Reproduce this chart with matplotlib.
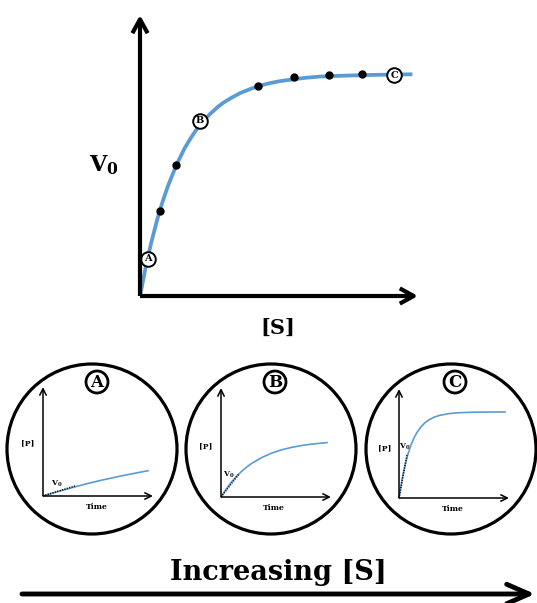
import matplotlib
matplotlib.use("Agg")
import matplotlib.pyplot as plt
from matplotlib.patches import Circle

plt.rcParams['mathtext.fontset'] = 'dejavuserif'
SERIF = 'DejaVu Serif'
BLUE = '#5b9bd5'

# ---------------- data ----------------
# main Michaelis-Menten style curve ([S] vs V0), arbitrary units 0-100
s_curve = [0, 2, 4, 6, 8, 10, 13, 16, 18, 20, 22, 25, 28, 30, 33, 36, 40, 43,
           46, 50, 55, 60, 65, 70, 80, 90, 98]
v_curve = [0, 10.0, 18.8, 26.5, 33.2, 39.0, 46.4, 52.5, 55.8, 58.8, 61.3, 64.6,
           67.3, 68.8, 70.6, 72.2, 73.8, 74.8, 75.6, 76.4, 77.1, 77.7, 78.1,
           78.3, 78.6, 78.8, 78.9]
s_dots = [7.2, 12.9, 42.4, 55.4, 68.0, 79.9]
v_dots = [30.2, 46.6, 74.7, 77.9, 78.6, 79.0]
marked_labels = ['A', 'B', 'C']
s_marked = [2.9, 21.6, 91.4]
v_marked = [13.2, 62.3, 78.6]

# progress curves ([P] vs Time) for the three substrate levels
time_A = [0, 15, 30, 45, 60, 75, 90, 105]
prod_A = [0, 4.5, 8.6, 12.6, 16.1, 19.4, 22.4, 25.3]
time_B = [0, 5, 10, 15, 20, 25, 30, 40, 50, 60, 70, 80, 90, 106]
prod_B = [0, 7.7, 14.4, 20.1, 25.1, 29.4, 33.1, 39.1, 43.6, 47.0, 49.5, 51.4, 52.8, 54.4]
time_C = [0, 3, 6, 9, 12, 15, 18, 22, 26, 30, 35, 40, 50, 60, 75, 90, 106]
prod_C = [0, 18.3, 32.8, 44.1, 53.1, 60.1, 65.6, 71.2, 75.3, 78.2, 80.8, 82.5,
          84.4, 85.3, 85.8, 86.0, 86.0]
# initial-rate (V0) tangent segments
v0_time = [[0, 32], [0, 18], [0, 8]]
v0_prod = [[0, 10], [0, 23], [0, 43]]

# ---------------- layout ----------------
W, H = 537, 603
fig = plt.figure(figsize=(W / 100, H / 100), dpi=100)


def frac(x0, y0, x1, y1):
    return [x0 / W, 1 - y1 / H, (x1 - x0) / W, (y1 - y0) / H]


def axis_arrows(ax, lw, hl, hw):
    style = f'->,head_length={hl},head_width={hw}'
    for xy in [(1, 0), (0, 1)]:
        ax.annotate('', xy=xy, xytext=(0, 0), xycoords='axes fraction',
                    textcoords='axes fraction',
                    arrowprops=dict(arrowstyle=style, lw=lw, color='black',
                                    shrinkA=0, shrinkB=0, capstyle='butt'),
                    annotation_clip=False)


def clean(ax):
    for sp in ax.spines.values():
        sp.set_visible(False)
    ax.set_xticks([])
    ax.set_yticks([])
    ax.patch.set_alpha(0)


# overlay axes in pixel coordinates
ax0 = fig.add_axes([0, 0, 1, 1])
ax0.set_xlim(0, W)
ax0.set_ylim(H, 0)
ax0.axis('off')

# main plot
ax = fig.add_axes(frac(140, 15, 418, 296))
clean(ax)
ax.set_xlim(0, 100)
ax.set_ylim(0, 100)
axis_arrows(ax, 3.0, 1.0, 0.55)
ax.plot(s_curve, v_curve, color=BLUE, lw=2.7, solid_capstyle='butt',
        solid_joinstyle='round', clip_on=False)
ax.plot(s_dots, v_dots, 'o', color='black', ms=5, clip_on=False)
ax.plot(s_marked, v_marked, 'o', mfc='white', mec='black', mew=1.4, ms=10.5,
        clip_on=False)
for lab, sx, vy in zip(marked_labels, s_marked, v_marked):
    ax.text(sx, vy, lab, ha='center', va='center', fontsize=7, fontweight='bold',
            family=SERIF)

ax0.text(104, 165, r'$\mathbf{V_0}$', ha='center', va='center', fontsize=16)
ax0.text(278, 328, '[S]', ha='center', va='center', fontsize=15,
         fontweight='bold', family=SERIF)

# insets
centers = [92, 271, 451]
origins = [(43, 496), (221, 497), (399, 498)]
times = [time_A, time_B, time_C]
prods = [prod_A, prod_B, prod_C]
plab_pos = [(28, 443), (206, 446), (385, 448)]
time_pos = [(97, 507), (274, 508), (453, 509)]
v0_pos = [(57, 484), (229, 475), (405, 447)]
letter_x = [97, 275, 455]

for i in range(3):
    ax0.add_patch(Circle((centers[i], 449), 85, fill=False, lw=2.3, color='black'))
    ax0.add_patch(Circle((letter_x[i], 382), 11, fill=False, lw=2.0, color='black'))
    ax0.text(letter_x[i], 382.5, marked_labels[i], ha='center', va='center',
             fontsize=12, fontweight='bold', family=SERIF)
    ox, oy = origins[i]
    a = fig.add_axes(frac(ox, oy - 109, ox + 110, oy))
    clean(a)
    a.set_xlim(0, 110)
    a.set_ylim(0, 109)
    axis_arrows(a, 1.1, 0.5, 0.25)
    a.plot(times[i], prods[i], color=BLUE, lw=1.2, clip_on=False)
    a.plot(v0_time[i], v0_prod[i], color='black', lw=1.2, ls=(0, (0.6, 0.9)),
           clip_on=False)
    ax0.text(*plab_pos[i], '[P]', ha='center', va='center', fontsize=5.5,
             fontweight='bold', family=SERIF)
    ax0.text(*time_pos[i], 'Time', ha='center', va='center', fontsize=5.5,
             fontweight='bold', family=SERIF)
    ax0.text(*v0_pos[i], r'$\mathbf{V_0}$', ha='center', va='center', fontsize=5.5)

# bottom arrow and caption
ax0.annotate('', xy=(535, 594), xytext=(22, 594), xycoords='data',
             arrowprops=dict(arrowstyle='->,head_length=1.6,head_width=0.7',
                             lw=3.5, color='black', shrinkA=0, shrinkB=0),
             annotation_clip=False)
ax0.text(278, 573, 'Increasing [S]', ha='center', va='center', fontsize=19.5,
         fontweight='bold', family=SERIF)

fig.savefig('out.png', dpi=100)
